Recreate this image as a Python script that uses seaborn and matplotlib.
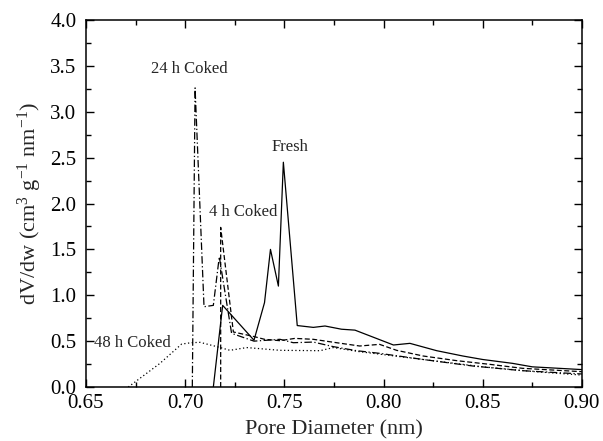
import numpy as np
import pandas as pd
import matplotlib
matplotlib.use("Agg")
import matplotlib.pyplot as plt
from matplotlib.ticker import MultipleLocator
import seaborn as sns

# Fresh catalyst
fresh_x = [0.7142, 0.7189, 0.7347, 0.7400, 0.7430, 0.7470, 0.7495, 0.7565, 0.7646,
           0.7705, 0.7788, 0.7856, 0.8050, 0.8133, 0.8268, 0.8400, 0.8500, 0.8650,
           0.8750, 0.9000]
fresh_y = [0.0, 0.89, 0.51, 0.92, 1.50, 1.10, 2.45, 0.67, 0.65,
           0.665, 0.63, 0.62, 0.458, 0.476, 0.396, 0.338, 0.30, 0.258,
           0.22, 0.19]

# 4 h coked
c4_x = [0.7179, 0.7179, 0.7243, 0.7347, 0.7400, 0.7478, 0.7553, 0.7646, 0.7763,
        0.7880, 0.7980, 0.8066, 0.8200, 0.8370, 0.8536, 0.8700, 0.9000]
c4_y = [0.0, 1.74, 0.60, 0.55, 0.52, 0.505, 0.53, 0.52, 0.483,
        0.447, 0.465, 0.40, 0.338, 0.287, 0.247, 0.204, 0.167]

# 24 h coked
c24_x = [0.7036, 0.7050, 0.7095, 0.7142, 0.7172, 0.7234, 0.7347, 0.7478, 0.7545,
         0.7646, 0.7747, 0.7864, 0.7980, 0.8200, 0.8450, 0.8700, 0.9000]
c24_y = [0.0, 3.26, 0.875, 0.89, 1.42, 0.585, 0.50, 0.52, 0.483,
         0.49, 0.44, 0.396, 0.367, 0.30, 0.229, 0.178, 0.142]

# 48 h coked
c48_x = [0.6713, 0.6738, 0.6873, 0.6982, 0.7030, 0.7075, 0.7160, 0.7226, 0.7310,
         0.7478, 0.7680, 0.7747, 0.7880, 0.8200, 0.8500, 0.8750, 0.9000]
c48_y = [0.0, 0.04, 0.258, 0.468, 0.483, 0.487, 0.44, 0.40, 0.43,
         0.40, 0.396, 0.43, 0.385, 0.30, 0.22, 0.17, 0.13]

series = ["Fresh", "4 h Coked", "24 h Coked", "48 h Coked"]
frames = []
for name, xs, ys in zip(series, [fresh_x, c4_x, c24_x, c48_x],
                        [fresh_y, c4_y, c24_y, c48_y]):
    frames.append(pd.DataFrame({"d": xs, "v": ys, "sample": name,
                                "order": np.arange(len(xs))}))
df = pd.concat(frames, ignore_index=True)

sns.set_style("ticks")
plt.rcParams["font.family"] = ["Liberation Serif", "DejaVu Serif"]
plt.rcParams["mathtext.fontset"] = "custom"
plt.rcParams["mathtext.rm"] = "Liberation Serif"
plt.rcParams["mathtext.it"] = "Liberation Serif:italic"

fig = plt.figure(figsize=(6.03, 4.41), dpi=100)
ax = fig.add_axes([0.1426, 0.1224, 0.8224, 0.8322])

dashes = {"Fresh": "", "4 h Coked": (4, 2), "24 h Coked": (6, 2, 1, 2),
          "48 h Coked": (1, 2)}
sns.lineplot(data=df, x="d", y="v", hue="sample", style="sample",
             units="sample", estimator=None, sort=False,
             palette={s: "black" for s in series}, dashes=dashes,
             linewidth=0.9, legend=False, ax=ax)

ax.set_xlim(0.65, 0.90)
ax.set_ylim(0.0, 4.0)
ax.xaxis.set_major_locator(MultipleLocator(0.05))
ax.xaxis.set_minor_locator(MultipleLocator(0.025))
ax.yaxis.set_major_locator(MultipleLocator(0.5))
ax.yaxis.set_minor_locator(MultipleLocator(0.25))
ax.xaxis.set_major_formatter(plt.FormatStrFormatter("%.2f"))
ax.yaxis.set_major_formatter(plt.FormatStrFormatter("%.1f"))
ax.tick_params(which="both", direction="in", top=True, right=True,
               colors="black", width=1)
ax.tick_params(which="major", length=6, labelsize=15)
ax.tick_params(axis="x", which="major", pad=5)
ax.tick_params(axis="y", which="major", pad=7)
ax.tick_params(which="minor", length=3.5)
for sp in ax.spines.values():
    sp.set_linewidth(1.1)
    sp.set_color("black")
    sp.set_visible(True)

ax.set_xlabel("Pore Diameter (nm)", fontsize=16, labelpad=5)
ax.set_ylabel(r"dV/dw (cm$^{3}$ g$^{-1}$ nm$^{-1}$)", fontsize=16, labelpad=4)

ax.text(0.7019, 3.47, "24 h Coked", fontsize=12, ha="center", va="center")
ax.text(0.7528, 2.62, "Fresh", fontsize=12, ha="center", va="center")
ax.text(0.7290, 1.91, "4 h Coked", fontsize=12, ha="center", va="center")
ax.text(0.6540, 0.48, "48 h Coked", fontsize=12, ha="left", va="center")

fig.savefig("out.png", dpi=100)
